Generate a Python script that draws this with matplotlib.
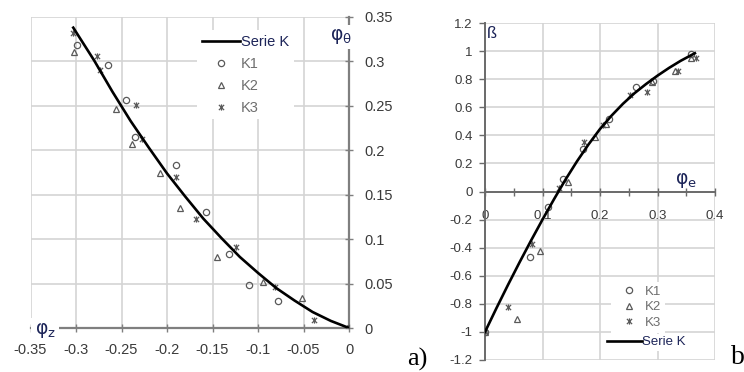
import matplotlib.pyplot as plt
from matplotlib.ticker import MultipleLocator
from matplotlib.path import Path

plt.rcParams['font.family'] = ['Liberation Sans', 'DejaVu Sans']
plt.rcParams['mathtext.fontset'] = 'dejavusans'

# ---- panel a): phi_theta against phi_z
a_curve_x = [-0.303, -0.28, -0.26, -0.24, -0.22, -0.2, -0.18, -0.16, -0.14, -0.12, -0.1, -0.08, -0.06, -0.04, -0.02, 0]
a_curve_y = [0.338, 0.301, 0.266, 0.233, 0.203, 0.174, 0.148, 0.123, 0.101, 0.080, 0.062, 0.045, 0.031, 0.018, 0.008, 0]
a_k1_x = [-0.299, -0.2645, -0.245, -0.235, -0.19, -0.157, -0.1315, -0.1095, -0.0777, 0]
a_k1_y = [0.318, 0.296, 0.2566, 0.215, 0.1834, 0.130, 0.0833, 0.0488, 0.0307, 0]
a_k2_x = [-0.302, -0.256, -0.239, -0.2077, -0.1857, -0.1454, -0.094, -0.052, 0]
a_k2_y = [0.311, 0.247, 0.207, 0.1748, 0.1347, 0.080, 0.052, 0.0334, 0]
a_k3_x = [-0.3037, -0.277, -0.274, -0.234, -0.228, -0.19, -0.168, -0.124, -0.081, -0.0385, 0]
a_k3_y = [0.332, 0.306, 0.290, 0.251, 0.213, 0.1696, 0.1223, 0.0908, 0.0458, 0.009, 0]
a_xticks = [-0.35, -0.3, -0.25, -0.2, -0.15, -0.1, -0.05, 0]
a_xlabels = ['-0.35', '-0.3', '-0.25', '-0.2', '-0.15', '-0.1', '-0.05', '0']
a_yticks = [0, 0.05, 0.1, 0.15, 0.2, 0.25, 0.3, 0.35]
a_ylabels = ['0', '0.05', '0.1', '0.15', '0.2', '0.25', '0.3', '0.35']

# ---- panel b): beta against phi_e
b_curve_x = [0, 0.02, 0.04, 0.06, 0.08, 0.1, 0.12, 0.14, 0.16, 0.18, 0.2, 0.22, 0.24, 0.26, 0.28, 0.3, 0.32, 0.34, 0.365]
b_curve_y = [-1.0, -0.83, -0.665, -0.505, -0.35, -0.2, -0.055, 0.085, 0.215, 0.335, 0.445, 0.54, 0.625, 0.70, 0.765, 0.825, 0.88, 0.93, 0.985]
b_k1_x = [0, 0.078, 0.11, 0.135, 0.17, 0.216, 0.263, 0.292, 0.358]
b_k1_y = [-1.0, -0.47, -0.11, 0.088, 0.30, 0.515, 0.745, 0.79, 0.98]
b_k2_x = [0, 0.055, 0.096, 0.145, 0.191, 0.21, 0.29, 0.33, 0.359]
b_k2_y = [-1.0, -0.907, -0.425, 0.07, 0.39, 0.48, 0.78, 0.857, 0.95]
b_k3_x = [0, 0.04, 0.081, 0.129, 0.172, 0.206, 0.253, 0.282, 0.335, 0.367]
b_k3_y = [-1.0, -0.82, -0.377, 0.026, 0.351, 0.475, 0.69, 0.707, 0.86, 0.952]
b_xticks = [0, 0.1, 0.2, 0.3, 0.4]
b_xlabels = ['0', '0.1', '0.2', '0.3', '0.4']
b_yticks = [-1.2, -1.0, -0.8, -0.6, -0.4, -0.2, 0, 0.2, 0.4, 0.6, 0.8, 1.0, 1.2]
b_ylabels = ['-1.2', '-1', '-0.8', '-0.6', '-0.4', '-0.2', '0', '0.2', '0.4', '0.6', '0.8', '1', '1.2']

W, H = 744, 372
grid_c = '#d4d4d4'
axis_c = '#7f7f7f'
mk_c = '#5a5a5a'
lab_c = '#3a3a3a'
dark_c = '#1c2458'

# excel-like star marker: an x with a vertical bar through it
star = Path([(-1, -1), (1, 1), (-1, 1), (1, -1), (0, -1.2), (0, 1.2)],
            [Path.MOVETO, Path.LINETO, Path.MOVETO, Path.LINETO, Path.MOVETO, Path.LINETO])

fig = plt.figure(figsize=(7.44, 3.72), dpi=100)


def draw_series(ax, cx, cy, k1x, k1y, k2x, k2y, k3x, k3y):
    line, = ax.plot(cx, cy, color='black', lw=1.9, zorder=4, label='Serie K')
    h1, = ax.plot(k1x, k1y, ls='none', marker='o', ms=4.5, mfc='none', mec=mk_c, mew=0.9, zorder=3, label='K1')
    h2, = ax.plot(k2x, k2y, ls='none', marker='^', ms=4.5, mfc='none', mec=mk_c, mew=0.9, zorder=3, label='K2')
    h3, = ax.plot(k3x, k3y, ls='none', marker=star, ms=4.5, mfc='none', mec=mk_c, mew=0.9, zorder=3, label='K3')
    return line, h1, h2, h3


# ---------------- panel a
ax1 = fig.add_axes([30.5 / W, 44 / H, 318.5 / W, 311 / H])
ax1.set_xlim(-0.35, 0)
ax1.set_ylim(0, 0.35)
for s in ['left', 'top']:
    ax1.spines[s].set_visible(False)
for s in ['right', 'bottom']:
    ax1.spines[s].set_color(axis_c)
    ax1.spines[s].set_linewidth(1.6)
    ax1.spines[s].set_zorder(2.5)
ax1.yaxis.tick_right()
ax1.set_xticks(a_xticks, a_xlabels)
ax1.set_yticks(a_yticks, a_ylabels)
ax1.tick_params(axis='both', direction='inout', length=6, width=1, color=axis_c,
                labelsize=10.5, labelcolor=lab_c, pad=8)
ax1.grid(True, color=grid_c, lw=1.2, zorder=0)
ax1.set_axisbelow(True)

l, k1, k2, k3 = draw_series(ax1, a_curve_x, a_curve_y, a_k1_x, a_k1_y, a_k2_x, a_k2_y, a_k3_x, a_k3_y)
leg = ax1.legend([l, k1, k2, k3], ['Serie K', 'K1', 'K2', 'K3'], loc='upper left',
                 bbox_to_anchor=(190 / W, 1 - 23 / H), bbox_transform=fig.transFigure,
                 fontsize=10.5, handlelength=2.6, handletextpad=0.1, labelspacing=0.55,
                 borderpad=0.3, frameon=True, fancybox=False, framealpha=1,
                 facecolor='white', edgecolor='none')
for i, t in enumerate(leg.get_texts()):
    t.set_color(dark_c if i == 0 else '#6e6e6e')

fig.text(341 / W, 1 - 37 / H, r'$\mathrm{φ}_{\mathrm{θ}}$', fontsize=13.5, color=dark_c, ha='center', va='center',
         bbox=dict(facecolor='white', edgecolor='none', pad=2))
fig.text(45 / W, 1 - 331 / H, r'$\mathrm{φ}_{\mathrm{z}}$', fontsize=13.5, color=dark_c, ha='center', va='center',
         bbox=dict(facecolor='white', edgecolor='none', pad=2.5))
fig.text(407 / W, 1 - 359 / H, 'a)', fontsize=19, family='Liberation Serif', color='black',
         ha='left', va='center')

# ---------------- panel b
ax2 = fig.add_axes([485 / W, 12 / H, 230 / W, 337 / H])
ax2.set_xlim(0, 0.4)
ax2.set_ylim(-1.2, 1.2)
for s in ['right', 'top']:
    ax2.spines[s].set_visible(False)
ax2.spines['bottom'].set_position(('data', 0))
for s in ['left', 'bottom']:
    ax2.spines[s].set_color('#6a6a6a')
    ax2.spines[s].set_linewidth(1.4)
    ax2.spines[s].set_zorder(2.5)
ax2.set_xticks(b_xticks, b_xlabels)
ax2.xaxis.set_minor_locator(MultipleLocator(0.05))
ax2.set_yticks(b_yticks, b_ylabels)
ax2.tick_params(axis='x', which='both', direction='inout', length=6, width=1, color='#6a6a6a',
                labelsize=9.5, labelcolor=lab_c, pad=10)
ax2.tick_params(axis='y', direction='out', length=4, width=1, color='#6a6a6a',
                labelsize=9.5, labelcolor=lab_c, pad=5)
ax2.grid(True, which='major', color=grid_c, lw=1.2, zorder=0)
ax2.set_axisbelow(True)

l, k1, k2, k3 = draw_series(ax2, b_curve_x, b_curve_y, b_k1_x, b_k1_y, b_k2_x, b_k2_y, b_k3_x, b_k3_y)
leg2a = ax2.legend([k1, k2, k3], ['K1', 'K2', 'K3'], loc='upper left',
                   bbox_to_anchor=(604 / W, 1 - 275 / H), bbox_transform=fig.transFigure,
                   fontsize=9.5, handlelength=2.2, handletextpad=0.1, labelspacing=0.25,
                   borderpad=0.3, frameon=True, fancybox=False, framealpha=1,
                   facecolor='white', edgecolor='none')
for t in leg2a.get_texts():
    t.set_color('#6e6e6e')
ax2.add_artist(leg2a)
leg2b = ax2.legend([l], ['Serie K'], loc='upper left',
                   bbox_to_anchor=(598 / W, 1 - 327 / H), bbox_transform=fig.transFigure,
                   fontsize=9.5, handlelength=2.6, handletextpad=0.05,
                   borderpad=0.2, frameon=True, fancybox=False, framealpha=1,
                   facecolor='white', edgecolor='none')
leg2b.get_texts()[0].set_color(dark_c)

fig.text(492 / W, 1 - 33 / H, 'ß', fontsize=12, color=dark_c, ha='center', va='center')
fig.text(686 / W, 1 - 180 / H, r'$\mathrm{φ}_{\mathrm{e}}$', fontsize=13.5, color=dark_c, ha='center', va='center')
fig.text(731 / W, 1 - 357 / H, 'b', fontsize=20, family='Liberation Serif', color='black',
         ha='left', va='center')

fig.savefig('out.png', dpi=100)
